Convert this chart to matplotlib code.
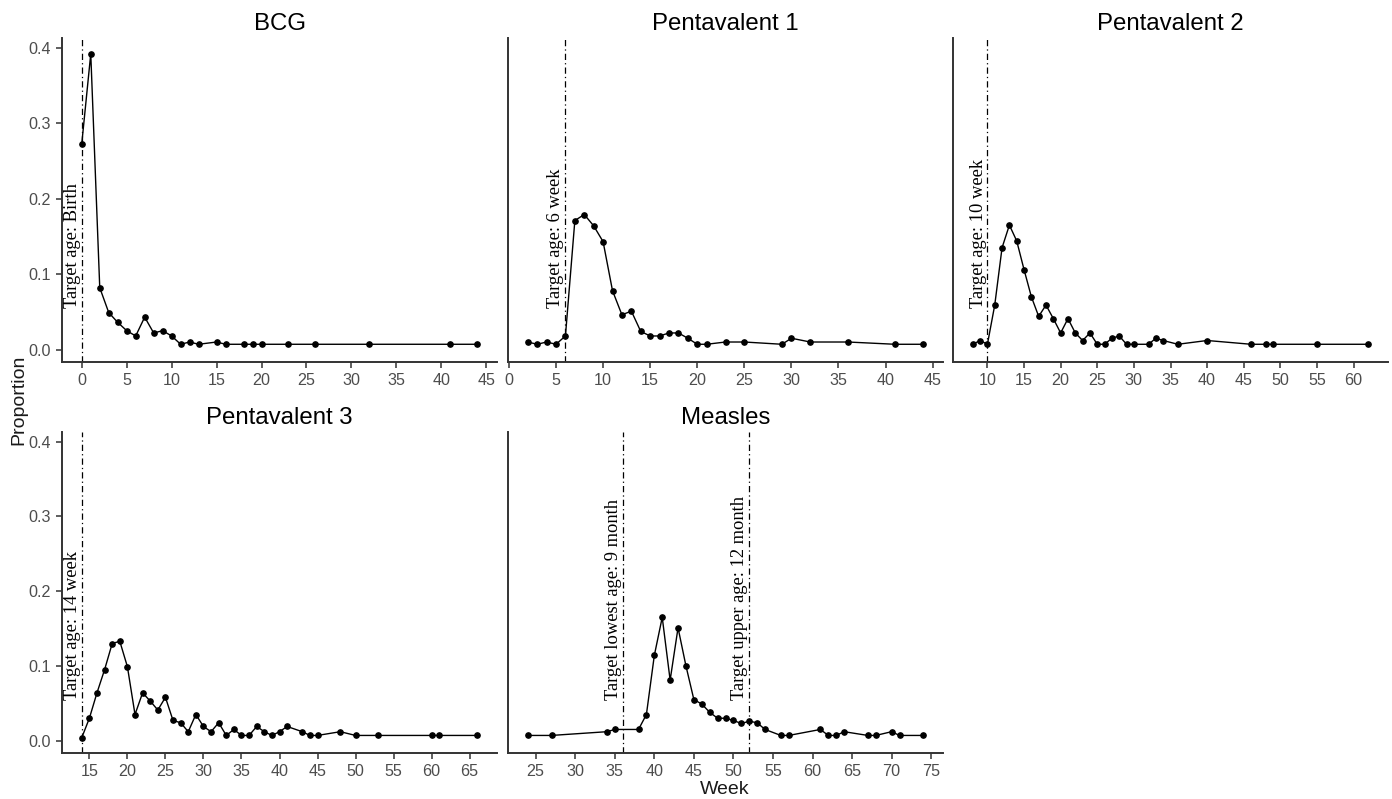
import matplotlib
matplotlib.use("Agg")
import matplotlib.pyplot as plt

# data (week, proportion)
bcg_weeks = [0, 1, 2, 3, 4, 5, 6, 7, 8, 9, 10, 11, 12, 13, 15, 16, 18, 19, 20, 23, 26, 32, 41, 44]
bcg_prop = [0.273, 0.392, 0.082, 0.049, 0.036, 0.025, 0.018, 0.043, 0.022, 0.025, 0.018, 0.007,
            0.010, 0.007, 0.010, 0.007, 0.007, 0.007, 0.007, 0.007, 0.007, 0.007, 0.007, 0.007]

penta1_weeks = [2, 3, 4, 5, 6, 7, 8, 9, 10, 11, 12, 13, 14, 15, 16, 17, 18, 19, 20, 21, 23, 25,
                29, 30, 32, 36, 41, 44]
penta1_prop = [0.010, 0.007, 0.010, 0.007, 0.018, 0.171, 0.179, 0.164, 0.143, 0.078, 0.046, 0.051,
               0.024, 0.018, 0.018, 0.022, 0.022, 0.015, 0.007, 0.007, 0.010, 0.010, 0.007, 0.015,
               0.010, 0.010, 0.007, 0.007]

penta2_weeks = [8, 9, 10, 11, 12, 13, 14, 15, 16, 17, 18, 19, 20, 21, 22, 23, 24, 25, 26, 27, 28,
                29, 30, 32, 33, 34, 36, 40, 46, 48, 49, 55, 62]
penta2_prop = [0.007, 0.012, 0.007, 0.059, 0.135, 0.165, 0.144, 0.106, 0.070, 0.044, 0.059, 0.041,
               0.022, 0.041, 0.022, 0.012, 0.022, 0.007, 0.007, 0.015, 0.018, 0.007, 0.007, 0.007,
               0.015, 0.012, 0.007, 0.012, 0.007, 0.007, 0.007, 0.007, 0.007]

penta3_weeks = [14, 15, 16, 17, 18, 19, 20, 21, 22, 23, 24, 25, 26, 27, 28, 29, 30, 31, 32, 33, 34,
                35, 36, 37, 38, 39, 40, 41, 43, 44, 45, 48, 50, 53, 60, 61, 66]
penta3_prop = [0.004, 0.030, 0.064, 0.095, 0.130, 0.133, 0.099, 0.035, 0.064, 0.053, 0.041, 0.058,
               0.027, 0.024, 0.012, 0.035, 0.019, 0.012, 0.024, 0.007, 0.015, 0.007, 0.007, 0.019,
               0.012, 0.007, 0.012, 0.019, 0.012, 0.007, 0.007, 0.012, 0.007, 0.007, 0.007, 0.007,
               0.007]

measles_weeks = [24, 27, 34, 35, 38, 39, 40, 41, 42, 43, 44, 45, 46, 47, 48, 49, 50, 51, 52, 53, 54,
                 56, 57, 61, 62, 63, 64, 67, 68, 70, 71, 74]
measles_prop = [0.007, 0.007, 0.012, 0.015, 0.015, 0.035, 0.114, 0.165, 0.081, 0.151, 0.100, 0.055,
                0.049, 0.038, 0.030, 0.030, 0.027, 0.023, 0.026, 0.024, 0.015, 0.007, 0.007, 0.015,
                0.007, 0.007, 0.012, 0.007, 0.007, 0.012, 0.007, 0.007]

titles = ["BCG", "Pentavalent 1", "Pentavalent 2", "Pentavalent 3", "Measles"]
all_weeks = [bcg_weeks, penta1_weeks, penta2_weeks, penta3_weeks, measles_weeks]
all_prop = [bcg_prop, penta1_prop, penta2_prop, penta3_prop, measles_prop]
target_weeks = [[0], [6], [10], [14], [36, 52]]
target_labels = [["Target age: Birth"], ["Target age: 6 week"], ["Target age: 10 week"],
                 ["Target age: 14 week"],
                 ["Target lowest age: 9 month", "Target upper age: 12 month"]]
x_ticks = [range(0, 46, 5), range(0, 46, 5), range(10, 61, 5), range(15, 66, 5), range(25, 76, 5)]

W, H = 1392, 799
fig = plt.figure(figsize=(W / 100, H / 100), dpi=100)
plt.rcParams['font.family'] = ['Liberation Sans', 'DejaVu Sans']

col_left = [62, 508, 953]
col_w = 435
rows = [(38, 362), (432, 753)]
positions = [(0, 0), (0, 1), (0, 2), (1, 0), (1, 1)]

tick_col = '#4d4d4d'
for i in range(5):
    r, c = positions[i]
    top, bot = rows[r]
    ax = fig.add_axes([col_left[c] / W, 1 - bot / H, col_w / W, (bot - top) / H])
    wk = all_weeks[i]
    pr = all_prop[i]
    ax.plot(wk, pr, color='black', lw=1.0, marker='o', markersize=3.8, zorder=3)
    for t, lab in zip(target_weeks[i], target_labels[i]):
        ax.axvline(t, color='black', lw=0.9, linestyle=(0, (5, 2.5, 1, 2.5)), zorder=2)
        ax.text(t - 0.1, 0.055, lab, rotation=90, ha='right', va='bottom',
                family=['Liberation Serif', 'DejaVu Serif'], fontsize=13.3, color='black')
    span = max(wk) - min(wk)
    ax.set_xlim(min(wk) - 0.05 * span, max(wk) + 0.05 * span)
    ax.set_ylim(-0.0165, 0.413)
    ax.set_xticks(list(x_ticks[i]))
    ax.set_yticks([0.0, 0.1, 0.2, 0.3, 0.4])
    ax.set_yticklabels(['0.0', '0.1', '0.2', '0.3', '0.4'])
    for s in ['top', 'right']:
        ax.spines[s].set_visible(False)
    for s in ['left', 'bottom']:
        ax.spines[s].set_color('#333333')
        ax.spines[s].set_linewidth(1.4)
    ax.tick_params(axis='both', colors='#333333', labelcolor=tick_col, labelsize=11.6,
                   length=4, width=1.1, pad=4)
    if c != 0:
        ax.tick_params(axis='y', left=False, labelleft=False)
    ax.set_title(titles[i], fontsize=17.3, pad=6, color='black')

fig.text(19 / W, 1 - 400 / H, "Proportion", rotation=90, ha='center', va='center',
         fontsize=14, color='#1a1a1a')
fig.text(725 / W, 1 - 789 / H, "Week", ha='center', va='center', fontsize=14, color='#1a1a1a')

fig.savefig("out.png", dpi=100)
